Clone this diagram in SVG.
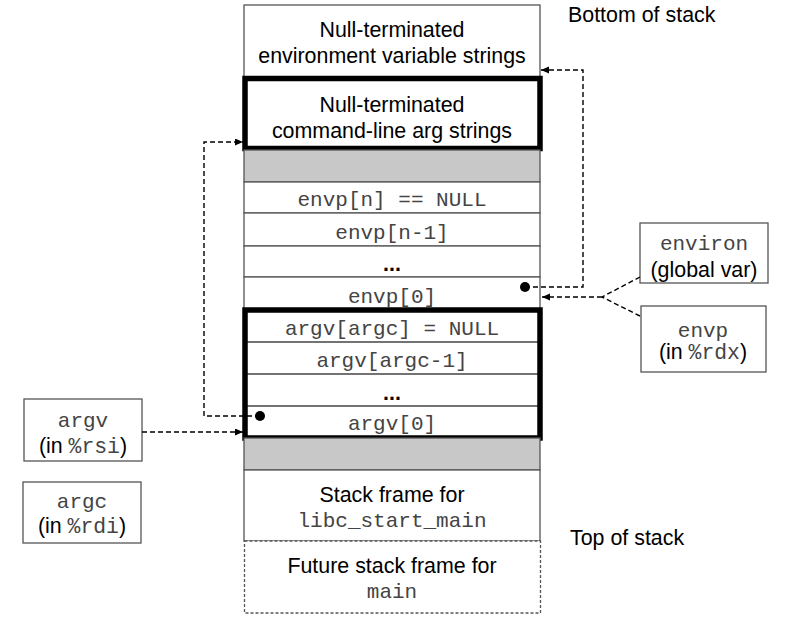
<svg xmlns="http://www.w3.org/2000/svg" width="786" height="632" viewBox="0 0 786 632">
<style>
.s{font-family:"Liberation Sans",Arial,sans-serif;font-size:21.4px;fill:#000;text-anchor:middle}
.m{font-family:"Liberation Mono","Courier New",monospace;font-size:21px;fill:#444;text-anchor:middle}
.mi{font-family:"Liberation Mono","Courier New",monospace;fill:#444}
.l{font-family:"Liberation Sans",Arial,sans-serif;font-size:21.4px;fill:#000}
.row{fill:#fff;stroke:#555;stroke-width:1.3}
.gray{fill:#c8c8c8;stroke:#555;stroke-width:1.3}
.thick{fill:none;stroke:#000;stroke-width:5.5}
.sep{stroke:#444;stroke-width:1.3}
.box{fill:#fff;stroke:#555;stroke-width:1.3}
.dash{fill:none;stroke:#000;stroke-width:1.4;stroke-dasharray:5 3}
</style>
<defs>
<marker id="arr" markerUnits="userSpaceOnUse" markerWidth="9" markerHeight="8" refX="8" refY="3.5" orient="auto">
<path d="M0,0 L8,3.5 L0,7 z" fill="#000"/>
</marker>
</defs>
<g id="env-strings">
<rect class="row" x="244" y="5" width="296" height="73"/>
<text class="s" x="392" y="37">Null-terminated</text>
<text class="s" x="392" y="63">environment variable strings</text>
</g>
<g id="arg-strings">
<rect class="row" x="244" y="78" width="296" height="72"/>
<text class="s" x="392" y="112">Null-terminated</text>
<text class="s" x="392" y="138">command-line arg strings</text>
<rect class="thick" x="245" y="78.5" width="295" height="70"/>
</g>
<g id="gap1"><rect class="gray" x="244" y="150" width="296" height="32"/></g>
<g id="envp-n">
<rect class="row" x="244" y="182" width="296" height="31"/>
<text class="m" x="392" y="206">envp[n] == NULL</text>
</g>
<g id="envp-n1">
<rect class="row" x="244" y="213" width="296" height="33"/>
<text class="m" x="392" y="239">envp[n-1]</text>
</g>
<g id="envp-dots">
<rect class="row" x="244" y="246" width="296" height="31"/>
<text class="s" x="392" y="271" font-weight="bold">...</text>
</g>
<g id="envp-0">
<rect class="row" x="244" y="277" width="296" height="33"/>
<text class="m" x="392" y="303">envp[0]</text>
</g>
<g id="argv-block">
<rect class="row" x="244" y="310" width="296" height="128"/>
<line class="sep" x1="245" y1="342" x2="540" y2="342"/>
<line class="sep" x1="245" y1="374" x2="540" y2="374"/>
<line class="sep" x1="245" y1="406" x2="540" y2="406"/>
<text class="m" x="392" y="335">argv[argc] = NULL</text>
<text class="m" x="392" y="367">argv[argc-1]</text>
<text class="s" x="392" y="400" font-weight="bold">...</text>
<text class="m" x="392" y="430">argv[0]</text>
<rect class="thick" x="245" y="310" width="295" height="128"/>
</g>
<g id="gap2"><rect class="gray" x="244" y="438" width="296" height="32"/></g>
<g id="libc-frame">
<rect class="row" x="244" y="470" width="296" height="71"/>
<text class="s" x="392" y="502">Stack frame for</text>
<text class="m" x="392" y="527">libc_start_main</text>
</g>
<g id="main-frame">
<rect x="244.5" y="541" width="296" height="72" fill="#fff" stroke="#555" stroke-width="1.3" stroke-dasharray="3 2"/>
<text class="s" x="392" y="573">Future stack frame for</text>
<text class="m" x="392" y="598">main</text>
</g>
<g id="bottom-label"><text class="l" x="568" y="22">Bottom of stack</text></g>
<g id="top-label"><text class="l" x="570" y="545">Top of stack</text></g>
<g id="environ-box">
<rect class="box" x="640" y="223" width="128" height="60"/>
<text class="m" x="704" y="250">environ</text>
<text class="s" x="704" y="277">(global var)</text>
</g>
<g id="envp-box">
<rect class="box" x="641" y="306" width="125" height="66"/>
<text class="m" x="703" y="337">envp</text>
<text class="s" x="703" y="359">(in <tspan class="mi">%rdx</tspan>)</text>
</g>
<g id="argv-box">
<rect class="box" x="24" y="399" width="118" height="62"/>
<text class="m" x="83" y="427">argv</text>
<text class="s" x="83" y="453">(in <tspan class="mi">%rsi</tspan>)</text>
</g>
<g id="argc-box">
<rect class="box" x="23" y="482" width="118" height="61"/>
<text class="m" x="82" y="508">argc</text>
<text class="s" x="82" y="533">(in <tspan class="mi">%rdi</tspan>)</text>
</g>
<g id="connectors">
<path class="dash" d="M525,287 H583 V70 H541" marker-end="url(#arr)"/>
<circle cx="525" cy="287" r="5" fill="#000"/>
<path class="dash" d="M260,416 H204 V142 H243" marker-end="url(#arr)"/>
<circle cx="260" cy="416" r="5" fill="#000"/>
<path class="dash" d="M640,277 L602,297"/>
<path class="dash" d="M640,316 L602,297"/>
<path class="dash" d="M602,297 H542" marker-end="url(#arr)"/>
<path class="dash" d="M142,432 H243" marker-end="url(#arr)"/>
</g>
</svg>
